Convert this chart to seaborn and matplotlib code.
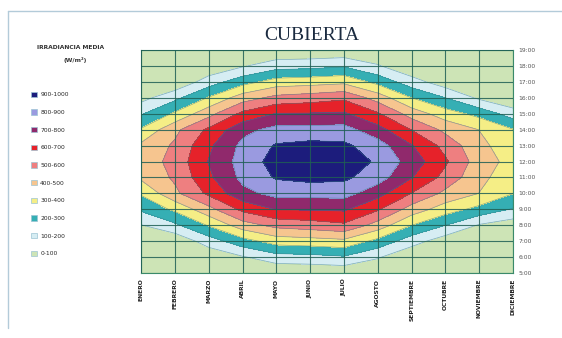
import numpy as np
import seaborn as sns
import matplotlib.pyplot as plt
from matplotlib.patches import Patch
from matplotlib.lines import Line2D

# --- DATA (irradiancia media W/m2) ---
months = ["ENERO", "FEBRERO", "MARZO", "ABRIL", "MAYO", "JUNIO", "JULIO",
          "AGOSTO", "SEPTIEMBRE", "OCTUBRE", "NOVIEMBRE", "DICIEMBRE"]
hours = list(range(5, 20))
hour_labels = [f"{h}:00" for h in hours]

# one list per month, values for 5:00 ... 19:00
enero      = [0, 0, 15, 95, 215, 312, 418, 440, 420, 311, 190, 65, 5, 0, 0]
febrero    = [0, 0, 20, 180, 320, 478, 516, 535, 516, 476, 316, 174, 14, 0, 0]
marzo      = [0, 20, 150, 308, 467, 620, 680, 705, 680, 620, 467, 308, 150, 20, 0]
abril      = [5, 90, 260, 453, 625, 771, 825, 840, 825, 771, 625, 453, 260, 90, 5]
mayo       = [10, 159, 343, 530, 705, 831, 910, 940, 910, 831, 705, 530, 343, 159, 10]
junio      = [15, 167, 357, 553, 707, 833, 930, 975, 930, 833, 707, 553, 357, 167, 15]
julio      = [20, 188, 375, 582, 714, 838, 920, 960, 920, 838, 714, 582, 375, 188, 20]
agosto     = [5, 110, 268, 457, 612, 737, 845, 885, 845, 737, 612, 457, 268, 110, 5]
septiembre = [0, 15, 143, 300, 457, 597, 705, 755, 705, 597, 457, 300, 143, 15, 0]
octubre    = [0, 0, 43, 200, 347, 475, 567, 615, 567, 475, 347, 200, 43, 0, 0]
noviembre  = [0, 0, 5, 90, 268, 398, 425, 450, 425, 398, 268, 81, 0, 0, 0]
diciembre  = [0, 0, 0, 40, 190, 302, 345, 365, 345, 305, 150, 10, 0, 0, 0]

levels = [0, 100, 200, 300, 400, 500, 600, 700, 800, 900, 1000]
range_labels = ["900-1000", "800-900", "700-800", "600-700", "500-600",
                "400-500", "300-400", "200-300", "100-200", "0-100"]

# colours from low to high
band_colors = sns.color_palette(["#cde4b6", "#d6edf3", "#35afb4", "#f5ee86",
                                 "#f6c58f", "#ee7f80", "#e6222a", "#90296c",
                                 "#9a9ae0", "#1c1c7c"])

sns.set_style("white")
plt.rcParams["font.family"] = ["DejaVu Sans"]

Z = np.array([enero, febrero, marzo, abril, mayo, junio, julio, agosto,
              septiembre, octubre, noviembre, diciembre]).T
X = np.arange(len(months))
Y = np.array(hours)

fig = plt.figure(figsize=(5.62, 3.38), dpi=100)
ax = fig.add_axes([0.251, 0.192, 0.662, 0.660])

ax.contourf(X, Y, Z, levels=levels, colors=band_colors)
ax.contour(X, Y, Z, levels=levels[1:-1], colors="#3d8088", linewidths=0.5, alpha=0.6)

ax.set_xlim(0, len(months) - 1)
ax.set_ylim(hours[0], hours[-1])
ax.set_xticks(X)
ax.set_xticklabels(months, rotation=90, fontsize=4.3, fontweight="bold",
                   va="top", ha="center", color="#222222")
ax.set_yticks(hours)
ax.set_yticklabels(hour_labels, fontsize=4.3, color="#555555")
ax.yaxis.tick_right()
ax.tick_params(axis="both", length=0, pad=4)
ax.set_axisbelow(False)
ax.grid(True, color="#1f5f55", lw=0.8, alpha=0.85)
for s in ax.spines.values():
    s.set_color("#3a8a6a")
    s.set_linewidth(0.8)

fig.text(0.555, 0.895, "CUBIERTA", ha="center", va="center", fontsize=14,
         family="Liberation Serif", color="#1b2b40")

# legend
fig.text(0.125, 0.858, "IRRADIANCIA MEDIA", ha="center", va="center",
         fontsize=4.3, fontweight="bold", color="#333333")
fig.text(0.133, 0.823, "(W/m²)", ha="center", va="center",
         fontsize=4.3, fontweight="bold", color="#333333")
handles = [Patch(facecolor=c, edgecolor="#9cc4d4", lw=0.5)
           for c in list(band_colors)[::-1]]
fig.legend(handles, range_labels, loc="upper left", bbox_to_anchor=(0.045, 0.745),
           frameon=False, fontsize=4.3, handlelength=1.1, handleheight=1.0,
           handletextpad=0.5, labelspacing=2.0)

# frame of the original sheet: left and top edges only are visible
fig.add_artist(Line2D([0.015, 0.015], [0.03, 0.967], transform=fig.transFigure,
                      color="#b3cbd9", lw=1.0))
fig.add_artist(Line2D([0.015, 1.0], [0.967, 0.967], transform=fig.transFigure,
                      color="#b3cbd9", lw=1.0))

fig.savefig("out.png", dpi=100)
